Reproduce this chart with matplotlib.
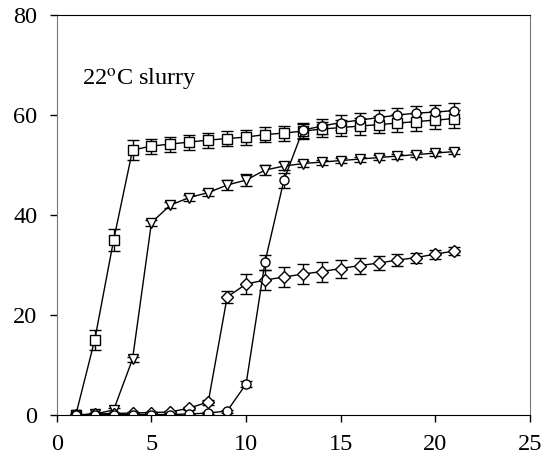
import numpy as np
import matplotlib.pyplot as plt

plt.rcParams['font.family'] = ['Liberation Serif', 'DejaVu Serif']
plt.rcParams['mathtext.fontset'] = 'stix'

days = np.arange(1, 22)

squares = [0, 15, 35, 53, 53.8, 54.2, 54.6, 55, 55.3, 55.6, 56.1, 56.4, 56.8,
           57.2, 57.5, 57.8, 58.1, 58.4, 58.7, 59.0, 59.3]
squares_err = [0.3, 2, 2.2, 2, 1.5, 1.5, 1.5, 1.5, 1.5, 1.5, 1.5, 1.5, 1.5,
               1.5, 1.6, 1.7, 1.7, 1.8, 1.8, 1.8, 1.8]

triangles = [0, 0.2, 1.0, 11.2, 38.5, 42, 43.5, 44.5, 46, 47, 49, 49.8, 50.3,
             50.6, 50.9, 51.2, 51.5, 51.8, 52.1, 52.4, 52.7]
triangles_err = [0.2, 0.2, 0.5, 0.5, 0.6, 0.6, 0.6, 0.6, 1.0, 1.2, 1.0, 0.8,
                 0.6, 0.5, 0.5, 0.5, 0.5, 0.5, 0.5, 0.5, 0.5]

diamonds = [0, 0.2, 0.3, 0.4, 0.5, 0.6, 1.4, 2.6, 23.6, 26.2, 27, 27.6, 28.2,
            28.7, 29.3, 29.9, 30.4, 31, 31.5, 32.2, 32.8]
diamonds_err = [0.2, 0.2, 0.2, 0.2, 0.2, 0.2, 0.3, 0.5, 1.2, 2, 2, 2, 2,
                2, 1.8, 1.6, 1.4, 1.2, 1.0, 0.9, 0.8]

circles = [0, 0.1, 0.1, 0.1, 0.1, 0.1, 0.2, 0.4, 0.8, 6.2, 30.6, 47, 57,
           57.8, 58.5, 59, 59.5, 60, 60.4, 60.6, 60.9]
circles_err = [0.1, 0.1, 0.1, 0.1, 0.1, 0.1, 0.1, 0.2, 0.3, 0.6, 1.5, 1.5, 1.5,
               1.5, 1.5, 1.5, 1.5, 1.5, 1.5, 1.5, 1.5]

fig = plt.figure(figsize=(5.52, 4.65), dpi=100)
ax = fig.add_axes([0.103, 0.1075, 0.857, 0.86])

series = [
    (squares, squares_err, 's', 6.5),
    (triangles, triangles_err, 'v', 7),
    (diamonds, diamonds_err, 'D', 6),
    (circles, circles_err, 'o', 6.5),
]
for vals, err, mk, ms in series:
    ax.errorbar(days, vals, yerr=err, fmt='-', marker=mk, ms=ms,
                mfc='white', mec='black', mew=1.0, color='black', lw=1.0,
                ecolor='black', elinewidth=1.0, capsize=4, capthick=1.0)

ax.set_xlim(0, 25)
ax.set_ylim(0, 80)
ax.set_xticks(range(0, 26, 5))
ax.set_yticks(range(0, 81, 20))
ax.tick_params(direction='out', length=5, width=1, labelsize=17.5)
ax.tick_params(axis='x', pad=9)
ax.tick_params(axis='y', pad=9)

for side in ['left', 'right']:
    ax.spines[side].set_color('#777777')
for side in ['top', 'bottom']:
    ax.spines[side].set_color('black')

ax.text(1.35, 67, r'22$^{\rm o}$C slurry', fontsize=17.5, va='center')

fig.savefig('out.png', dpi=100)
